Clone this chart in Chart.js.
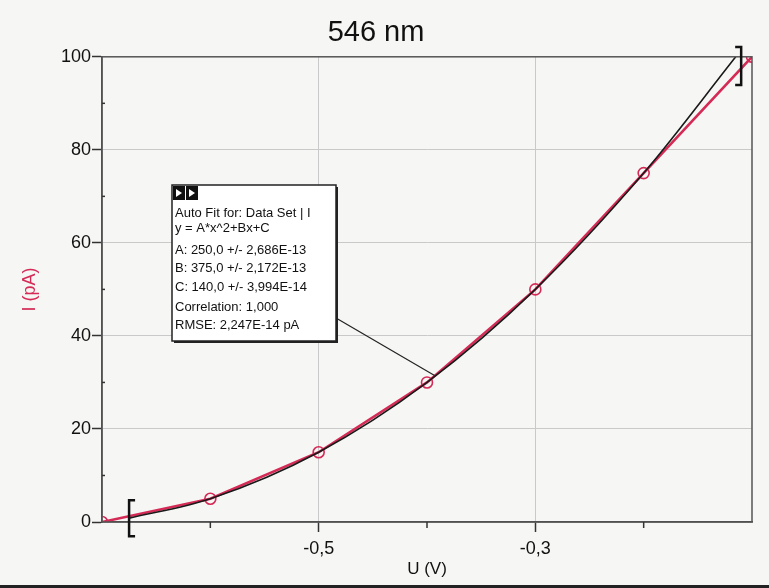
<!DOCTYPE html>
<html>
<head>
<meta charset="utf-8">
<script src="https://cdn.jsdelivr.net/npm/chart.js@4/dist/chart.umd.min.js"></script>
<style>
  body { margin: 0; background: #f6f6f4; }
  #wrap { position: relative; width: 769px; height: 588px; }
  #edge { position: absolute; left: 0; right: 0; bottom: 0; height: 3px; background: #222; }
</style>
</head>
<body>
<div id="wrap">
  <canvas id="chart" width="769" height="588"></canvas>
  <div id="edge"></div>
</div>
<script>
// measured points (U in V, I in pA)
const voltage = [-0.7, -0.6, -0.5, -0.4, -0.3, -0.2, -0.1];
const current = [0, 5, 15, 30, 50, 75, 100];

// fitted curve
const fitVoltage = [-0.675, -0.6, -0.5, -0.4, -0.3, -0.2, -0.115];
const fitCurrent = [0.8, 5, 15, 30, 50, 75, 100];

const bracketU = [-0.675, -0.11];
const bracketI = [0.8, 98];

const leaderU = -0.393;
const leaderI = 31.5;

const fitLines = [
    'Auto Fit for: Data Set | I',
    'y = A*x^2+Bx+C',
    'A: 250,0 +/- 2,686E-13',
    'B: 375,0 +/- 2,172E-13',
    'C: 140,0 +/- 3,994E-14',
    'Correlation: 1,000',
    'RMSE: 2,247E-14 pA'
];

const RED = '#d42a55';
const GRID = '#c9c9c9';
const FONT = '"Liberation Sans", Arial, sans-serif';

const extras = {
    id: 'extras',
    afterDraw(chart) {
        const ctx = chart.ctx;
        const a = chart.chartArea;
        const xs = chart.scales.x, ys = chart.scales.y;
        ctx.save();

        // frame
        ctx.strokeStyle = '#555';
        ctx.lineWidth = 1.5;
        ctx.strokeRect(a.left, a.top, a.right - a.left, a.bottom - a.top);

        // minor ticks
        ctx.strokeStyle = '#333';
        ctx.lineWidth = 1.5;
        [-0.6, -0.4, -0.2].forEach(v => {
            const px = xs.getPixelForValue(v);
            ctx.beginPath(); ctx.moveTo(px, a.bottom); ctx.lineTo(px, a.bottom + 6); ctx.stroke();
        });
        [10, 30, 50, 70, 90].forEach(v => {
            const py = ys.getPixelForValue(v);
            ctx.beginPath(); ctx.moveTo(a.left, py); ctx.lineTo(a.left + 3, py); ctx.stroke();
        });

        // fit range brackets
        ctx.lineWidth = 2.5;
        ctx.strokeStyle = '#111';
        const bx0 = xs.getPixelForValue(bracketU[0]), by0 = ys.getPixelForValue(bracketI[0]);
        ctx.beginPath();
        ctx.moveTo(bx0 + 6, by0 - 18); ctx.lineTo(bx0, by0 - 18);
        ctx.lineTo(bx0, by0 + 18); ctx.lineTo(bx0 + 6, by0 + 18);
        ctx.stroke();
        const bx1 = xs.getPixelForValue(bracketU[1]), by1 = ys.getPixelForValue(bracketI[1]);
        ctx.beginPath();
        ctx.moveTo(bx1 - 6, by1 - 19); ctx.lineTo(bx1, by1 - 19);
        ctx.lineTo(bx1, by1 + 19); ctx.lineTo(bx1 - 6, by1 + 19);
        ctx.stroke();

        // fit info box
        const box = { x: 172, y: 185, w: 164, h: 156 };
        ctx.lineWidth = 1.2;
        ctx.strokeStyle = '#222';
        ctx.beginPath();
        ctx.moveTo(box.x + box.w, box.y + 133);
        ctx.lineTo(xs.getPixelForValue(leaderU), ys.getPixelForValue(leaderI));
        ctx.stroke();

        ctx.fillStyle = '#222';
        ctx.fillRect(box.x + 2, box.y + 2, box.w, box.h);
        ctx.fillStyle = '#fff';
        ctx.fillRect(box.x, box.y, box.w, box.h);
        ctx.lineWidth = 1.5;
        ctx.strokeRect(box.x, box.y, box.w, box.h);

        // title bar icons
        ctx.fillStyle = '#111';
        ctx.fillRect(box.x + 1, box.y + 1, 12, 14);
        ctx.fillRect(box.x + 14, box.y + 1, 12, 14);
        ctx.fillStyle = '#fff';
        [box.x + 1, box.x + 14].forEach(ix => {
            ctx.beginPath();
            ctx.moveTo(ix + 3, ix === box.x + 1 ? box.y + 12 : box.y + 4);
            ctx.lineTo(ix + 9, box.y + 8);
            ctx.lineTo(ix + 3, ix === box.x + 1 ? box.y + 4 : box.y + 12);
            ctx.fill();
        });

        ctx.fillStyle = '#111';
        ctx.font = '13px ' + FONT;
        ctx.textBaseline = 'middle';
        const lineY = [28, 43, 65, 83, 102, 122, 140];
        fitLines.forEach((t, i) => ctx.fillText(t, box.x + 3, box.y + lineY[i]));

        ctx.restore();
    }
};

new Chart(document.getElementById('chart'), {
    type: 'line',
    data: {
        datasets: [
            {
                label: 'fit',
                data: fitVoltage.map((u, i) => ({ x: u, y: fitCurrent[i] })),
                borderColor: '#1a1a1a',
                borderWidth: 1.6,
                pointRadius: 0,
                cubicInterpolationMode: 'monotone',
                clip: 0,
                order: 0
            },
            {
                label: 'I',
                data: voltage.map((u, i) => ({ x: u, y: current[i] })),
                borderColor: RED,
                borderWidth: 2.6,
                pointRadius: 5.5,
                pointBorderWidth: 1.6,
                pointBorderColor: RED,
                pointBackgroundColor: 'rgba(0,0,0,0)',
                clip: 0,
                order: 1
            }
        ]
    },
    options: {
        responsive: false,
        animation: false,
        layout: { padding: { left: 0, right: 17, top: 0, bottom: 0 } },
        plugins: {
            legend: { display: false },
            tooltip: { enabled: false },
            title: {
                display: true,
                text: '546 nm',
                color: '#111',
                font: { family: FONT, size: 29, weight: 'normal' },
                padding: { top: 16, bottom: 6 }
            }
        },
        scales: {
            x: {
                type: 'linear',
                min: -0.7,
                max: -0.1,
                afterFit: s => { s.height = 66; },
                border: { color: '#444', width: 1.5 },
                grid: {
                    tickLength: 10,
                    color: c => [-5, -3].includes(Math.round(c.tick.value * 10)) ? GRID : 'rgba(0,0,0,0)',
                    tickColor: c => [-5, -3].includes(Math.round(c.tick.value * 10)) ? '#333' : 'rgba(0,0,0,0)',
                    tickWidth: 1.5
                },
                ticks: {
                    stepSize: 0.1,
                    autoSkip: false,
                    maxRotation: 0,
                    padding: 6,
                    color: '#111',
                    font: { family: FONT, size: 18 },
                    callback: v => {
                        const k = Math.round(v * 10);
                        return (k === -5 || k === -3) ? String(k / 10).replace('.', ',') : '';
                    }
                },
                title: {
                    display: true,
                    text: 'U (V)',
                    color: '#111',
                    font: { family: FONT, size: 17 },
                    padding: { top: 0, bottom: 8 }
                }
            },
            y: {
                min: 0,
                max: 100,
                afterFit: s => { s.width = 102; },
                border: { color: '#444', width: 1.5 },
                grid: {
                    tickLength: 10,
                    color: c => (c.tick.value % 20 === 0 && c.tick.value > 0 && c.tick.value < 100) ? GRID : 'rgba(0,0,0,0)',
                    tickColor: c => c.tick.value % 20 === 0 ? '#333' : 'rgba(0,0,0,0)',
                    tickWidth: 1.5
                },
                ticks: {
                    stepSize: 10,
                    autoSkip: false,
                    padding: 1,
                    color: '#111',
                    font: { family: FONT, size: 18 },
                    callback: v => v % 20 === 0 ? v : ''
                },
                title: {
                    display: true,
                    text: 'I (pA)',
                    color: RED,
                    font: { family: FONT, size: 18 },
                    padding: { top: 19, bottom: 0 }
                }
            }
        }
    },
    plugins: [extras]
});
</script>
</body>
</html>
